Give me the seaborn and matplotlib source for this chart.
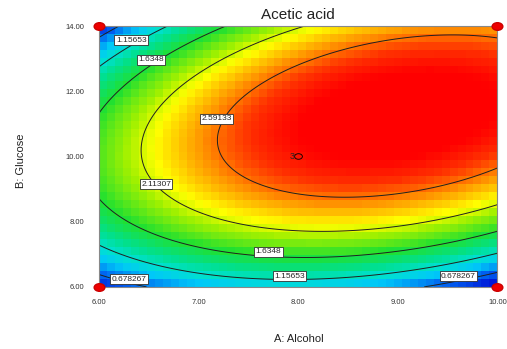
import numpy as np
import matplotlib
matplotlib.use("Agg")
import matplotlib.pyplot as plt
from matplotlib.colors import LinearSegmentedColormap
from matplotlib.markers import MarkerStyle
from matplotlib.transforms import Affine2D
import seaborn as sns

# Response surface (coded units: a=(Alcohol-8)/2, b=(Glucose-10)/4)
# terms: intercept, A, B, AB, A^2, B^2 -- estimated from the contour lines
coef = [2.86, 0.4587, 0.5515, 0.5398, -0.6203, -1.3308]
alcohol_range = [6.0, 10.0]
glucose_range = [6.0, 14.0]
contour_levels = [0.678267, 1.15653, 1.6348, 2.11307, 2.59133]
x_ticks = [6.00, 7.00, 8.00, 9.00, 10.00]
y_ticks = [6.00, 8.00, 10.00, 12.00, 14.00]
design_x = [6.0, 6.0, 10.0, 10.0]
design_y = [6.0, 14.0, 6.0, 14.0]
center_x, center_y, center_reps = 8.0, 10.0, 3

# where Design-Expert put the contour labels (level index, x, y)
label_pos = [(1, 6.32, 13.57), (2, 6.52, 12.96), (4, 7.18, 11.15), (3, 6.57, 9.15),
             (2, 7.70, 7.07), (1, 7.91, 6.33), (0, 6.30, 6.24), (0, 9.61, 6.33)]


def surface(x, y):
    a = (x - 8.0) / 2.0
    b = (y - 10.0) / 4.0
    return coef[0] + coef[1]*a + coef[2]*b + coef[3]*a*b + coef[4]*a*a + coef[5]*b*b


sns.set_theme(style="white")
plt.rcParams['font.family'] = ['Liberation Sans', 'DejaVu Sans']

fig = plt.figure(figsize=(5.07, 3.49), dpi=100)
ax = fig.add_axes([0.196, 0.178, 0.785, 0.7475])

de_cmap = LinearSegmentedColormap.from_list("de", [
    (0.0, "#0018d8"), (0.1, "#0060f0"), (0.2, "#00c8f8"), (0.27, "#00e0d0"),
    (0.35, "#00e090"), (0.47, "#20e030"), (0.6, "#a0f000"), (0.68, "#ffff00"),
    (0.78, "#ffa000"), (0.88, "#ff3000"), (0.95, "#ff0000"), (1.0, "#ff0000")])

# blocky colour cells like the original
nx, ny = 50, 33
xe = np.linspace(*alcohol_range, nx + 1)
ye = np.linspace(*glucose_range, ny + 1)
xc = (xe[:-1] + xe[1:]) / 2
yc = (ye[:-1] + ye[1:]) / 2
XC, YC = np.meshgrid(xc, yc)
ZC = surface(XC, YC)
ax.pcolormesh(xe, ye, ZC, cmap=de_cmap, shading="flat")

# smooth contour lines
xf = np.linspace(*alcohol_range, 300)
yf = np.linspace(*glucose_range, 300)
XF, YF = np.meshgrid(xf, yf)
ax.contour(XF, YF, surface(XF, YF), levels=contour_levels, colors="#202020", linewidths=0.7)

for i, lx, ly in label_pos:
    ax.text(lx, ly, f"{contour_levels[i]:g}", fontsize=6, ha="center", va="center",
            bbox=dict(facecolor="white", edgecolor="#303030", linewidth=0.6, pad=1.0))

# design points
ell = MarkerStyle("o", transform=Affine2D().scale(1.4, 1.0))
ax.plot(design_x, design_y, ls="none", marker=ell, ms=5.5, color="#ee0000",
        mec="#cc0000", clip_on=False, zorder=5)
ax.plot([center_x], [center_y], ls="none", marker=MarkerStyle("o", transform=Affine2D().scale(1.4, 1.0)),
        ms=4, mfc="none", mec="black", mew=0.6)
ax.text(center_x - 0.04, center_y, str(center_reps), fontsize=6.5, ha="right", va="center")

ax.set_xlim(*alcohol_range)
ax.set_ylim(*glucose_range)
ax.set_xticks(x_ticks)
ax.set_yticks(y_ticks)
ax.set_xticklabels([f"{v:.2f}" for v in x_ticks])
ax.set_yticklabels([f"{v:.2f}" for v in y_ticks])
ax.tick_params(axis="both", labelsize=5.5, colors="#555555", labelcolor="#333333",
               direction="out", width=0.8)
ax.tick_params(axis="x", length=6, pad=3)
ax.tick_params(axis="y", length=8, pad=3)
for s in ax.spines.values():
    s.set_color("#888888")
    s.set_linewidth(0.8)

ax.set_title("Acetic acid", fontsize=11, color="#222222", pad=5)
fig.text(0.59, 0.03, "A: Alcohol", fontsize=8, ha="center", va="center", color="#222222")
fig.text(0.041, 0.54, "B: Glucose", fontsize=8, ha="center", va="center", rotation=90, color="#222222")

fig.savefig("out.png", dpi=100)
